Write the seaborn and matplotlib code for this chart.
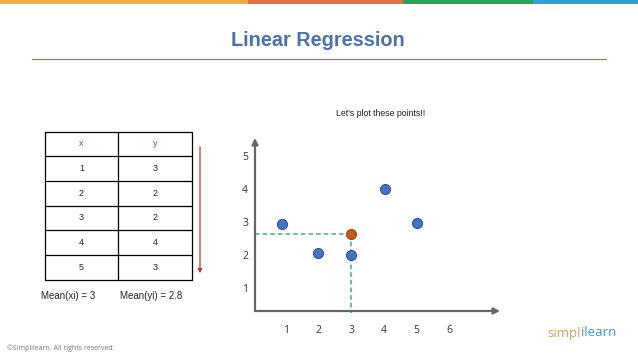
import matplotlib
matplotlib.use("Agg")
import matplotlib.pyplot as plt
import seaborn as sns
import pandas as pd

# table values
table_x = [1, 2, 3, 4, 5]
table_y = [3, 2, 2, 4, 3]
mean_x = 3
mean_y = 2.8

# point positions as drawn on the slide
point_x = [0.89, 2.0, 3.0, 4.03, 5.0]
point_y = [2.94, 2.06, 2.0, 4.0, 2.97]
mean_point_x = [3.0]
mean_point_y = [2.64]

x_ticks = [1, 2, 3, 4, 5, 6]
y_ticks = [1, 2, 3, 4, 5]

strip_colors = ["#f4ac3c", "#e8703e", "#22a659", "#2a9fd8"]
strip_edges = [0, 248, 403, 533, 638]

sns.set_style("white")
plt.rcParams["font.family"] = ["Liberation Sans", "DejaVu Sans"]

W, H = 638, 359
fig = plt.figure(figsize=(W / 100, H / 100), dpi=100)

# background axes in pixel coordinates for slide decorations
bg = fig.add_axes([0, 0, 1, 1])
bg.set_xlim(0, W)
bg.set_ylim(H, 0)
bg.axis("off")

# coloured strip along the top
for i, c in enumerate(strip_colors):
    bg.fill_between([strip_edges[i], strip_edges[i + 1]], 0, 3.5, color=c, lw=0)

# title and underline
bg.text(318, 40, "Linear Regression", ha="center", va="center",
        fontsize=14.3, fontweight="bold", color="#4a70ae")
bg.plot([32, 606], [59, 59], color="#6a7f9a", lw=0.8)

# data table
tbl_left, tbl_mid, tbl_right = 45, 118, 192
row_lines = [132, 156, 181, 206, 230, 255, 280]
for yl in row_lines:
    bg.plot([tbl_left, tbl_right], [yl, yl], color="black", lw=0.9)
for xl in [tbl_left, tbl_mid, tbl_right]:
    bg.plot([xl, xl], [row_lines[0], row_lines[-1]], color="black", lw=0.9)

cx1 = (tbl_left + tbl_mid) / 2
cx2 = (tbl_mid + tbl_right) / 2
hy = (row_lines[0] + row_lines[1]) / 2
bg.text(cx1, hy, "x", ha="center", va="center", fontsize=6.5, color="#d03a3a")
bg.text(cx2, hy, "y", ha="center", va="center", fontsize=6.5, color="#d03a3a")
for i, (xv, yv) in enumerate(zip(table_x, table_y)):
    ry = (row_lines[i + 1] + row_lines[i + 2]) / 2
    bg.text(cx1, ry, str(xv), ha="center", va="center", fontsize=6.5, color="#222222")
    bg.text(cx2, ry, str(yv), ha="center", va="center", fontsize=6.5, color="#222222")

# red arrow next to the table
bg.annotate("", xy=(200, 276), xytext=(200, 144),
            arrowprops=dict(arrowstyle="-|>", color="#c8302c", lw=0.9,
                            mutation_scale=6))

bg.text(41, 296, f"Mean(xi) = {mean_x}", ha="left", va="center",
        fontsize=7, color="#222222")
bg.text(120, 296, f"Mean(yi) = {mean_y}", ha="left", va="center",
        fontsize=7, color="#222222")

bg.text(381, 114, "Let's plot these points!!", ha="center", va="center",
        fontsize=6.3, color="#222222")

# footer and logo
bg.text(7, 348, "\u00a9Simplilearn. All rights reserved.", ha="left", va="center",
        fontsize=5, color="#777777", family=["Open Sans", "DejaVu Sans"])
t1 = bg.text(547, 333, "simpl", ha="left", va="center", fontsize=9.5,
             color="#d4a05a", family=["Open Sans", "DejaVu Sans"])
fig.canvas.draw()
bb = t1.get_window_extent()
bg.text(bb.x1, 333, "ilearn", ha="left", va="center", fontsize=9.5,
        color="#3a9ad2", family=["Open Sans", "DejaVu Sans"])

# scatter plot
ax_l, ax_r, ax_b, ax_t = 255, 500, 311, 138
ax = fig.add_axes([ax_l / W, 1 - ax_b / H, (ax_r - ax_l) / W, (ax_b - ax_t) / H])
ax.patch.set_alpha(0)
ax.set_xlim(0.06, 7.55)
ax.set_ylim(0.30, 5.55)
for s in ax.spines.values():
    s.set_visible(False)

ax.annotate("", xy=(1, 0), xytext=(0, 0), xycoords="axes fraction",
            arrowprops=dict(arrowstyle="-|>", color="#666666", lw=1.6,
                            mutation_scale=9, shrinkA=0, shrinkB=0))
ax.annotate("", xy=(0, 1), xytext=(0, 0), xycoords="axes fraction",
            arrowprops=dict(arrowstyle="-|>", color="#666666", lw=1.6,
                            mutation_scale=9, shrinkA=0, shrinkB=0))

dash_color = "#46ad78"
ax.plot([0.06, mean_point_x[0]], [mean_point_y[0], mean_point_y[0]],
        color=dash_color, lw=1.1, ls=(0, (3, 2)), zorder=2)
ax.plot([mean_point_x[0], mean_point_x[0]], [mean_point_y[0], 0.24],
        color=dash_color, lw=1.1, ls=(0, (3, 2)), zorder=2, clip_on=False)

pts = pd.DataFrame({"x": point_x, "y": point_y})
sns.scatterplot(data=pts, x="x", y="y", ax=ax, color="#4472c4", s=52,
                edgecolor="#2f5597", linewidth=0.8, zorder=3)
sns.scatterplot(x=mean_point_x, y=mean_point_y, ax=ax, color="#c55a11", s=52,
                edgecolor="#9a4a1a", linewidth=0.8, zorder=4)

ax.set_xticks(x_ticks)
ax.set_yticks(y_ticks)
ax.set_xlabel("")
ax.set_ylabel("")
ax.tick_params(axis="both", length=0, labelsize=7.5, colors="#333333")
ax.tick_params(axis="x", pad=10)
ax.tick_params(axis="y", pad=5)
for lab in ax.get_xticklabels() + ax.get_yticklabels():
    lab.set_family(["Open Sans", "DejaVu Sans"])

fig.savefig("out.png", dpi=100)
